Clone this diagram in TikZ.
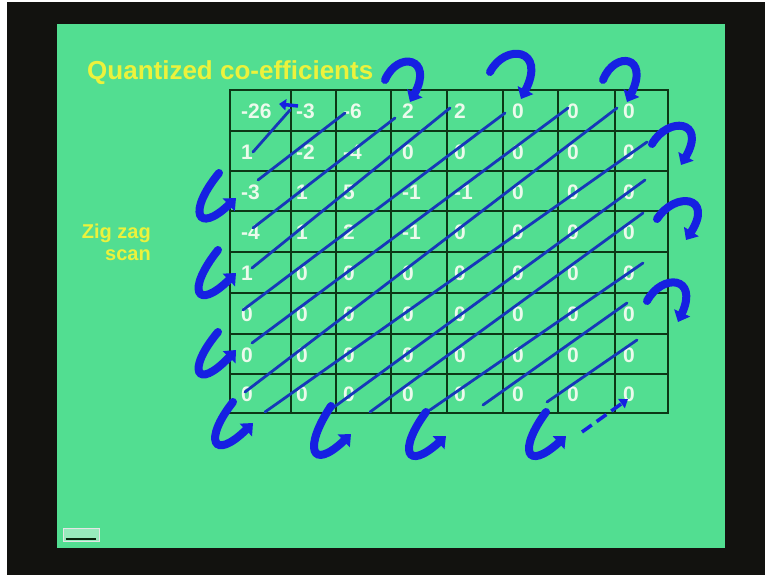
\documentclass[tikz,border=0pt]{standalone}
\usepackage{fontspec}
\setmainfont{Liberation Sans}
\usetikzlibrary{arrows.meta}
\definecolor{slidegreen}{RGB}{82,222,145}
\definecolor{frameblack}{RGB}{18,18,15}
\definecolor{gridgreen}{RGB}{12,55,22}
\definecolor{thinblue}{RGB}{22,55,185}
\definecolor{thickblue}{RGB}{22,32,226}
\definecolor{titleyellow}{RGB}{236,242,60}
\definecolor{numwhite}{RGB}{236,250,236}
\tikzset{
  gridline/.style={draw=gridgreen, line width=2.8pt},
  diagline/.style={draw=thinblue, line width=2.8pt, line cap=round},
  turnarrow/.style={draw=thickblue, line width=8pt, line cap=round,
    -{Triangle[length=10pt,width=17pt]}},
  num/.style={anchor=base west, text=numwhite, font=\bfseries\fontsize{21}{23}\selectfont, inner sep=0pt},
  label/.style={text=titleyellow, font=\bfseries\fontsize{20}{22}\selectfont, inner sep=0pt}
}
\begin{document}
\begin{tikzpicture}[x=1pt,y=-1pt]
\useasboundingbox (0,0) rectangle (765,575);
% frame and slide
\fill[frameblack] (0,0) rectangle (765,575);
\fill[white] (0,0) rectangle (7,575);
\fill[white] (0,0) rectangle (765,2);
\fill[slidegreen] (57,24) rectangle (725,548);
% bottom-left button
\node[draw=white!80!gray, fill=slidegreen!60!white, line width=1pt, minimum width=36pt, minimum height=13pt, inner sep=0pt] (btn) at (81,535) {};
\draw[gridgreen!70!black, line width=1.2pt] (btn.south west) ++(3,-3) -- ++(30,0);
% titles
\node[label, font=\bfseries\fontsize{26}{28}\selectfont, anchor=west] (title) at (87,73) {Quantized co-efficients};
\node[label, align=right, anchor=east] (zz) at (151,242) {Zig zag\\scan};
% grid
\foreach \x in {230,291,336,391,447,503,558,615,668}
  \draw[gridline] (\x,90) -- (\x,413);
\foreach \y in {90,131,171,211,252,293,334,374,413}
  \draw[gridline] (229,\y) -- (669,\y);
% numbers
\def\colL{{241,296,343,402,454,512,567,623}}
\def\rowB{{118,159,199,239,280,321,362,401}}
\foreach \r/\vals in {0/{-26,-3,-6,2,2,0,0,0},1/{1,-2,-4,0,0,0,0,0},2/{-3,1,5,-1,-1,0,0,0},3/{-4,1,2,-1,0,0,0,0},4/{1,0,0,0,0,0,0,0},5/{0,0,0,0,0,0,0,0},6/{0,0,0,0,0,0,0,0},7/{0,0,0,0,0,0,0,0}}{
  \foreach \v [count=\c from 0] in \vals {
    \pgfmathsetmacro{\xx}{\colL[\c]}
    \pgfmathsetmacro{\yy}{\rowB[\r]}
    \node[num] (n\r\c) at (\xx,\yy) {\v};
  }
}
% thin diagonal scan lines
\foreach \xa/\ya/\xb/\yb in {253/152/290/110, 258/180/345/113, 253/228/395/118, 252/268/450/108,
  243/310/505/113, 252/343/568/108, 245/392/617/108, 265/412/647/142, 330/410/645/180,
  370/412/643/213, 430/410/643/263, 483/405/627/303, 547/402/637/340}
  \draw[diagline] (\xa,\ya) -- (\xb,\yb);
% small first arrow
\draw[draw=thickblue, line width=3.5pt, -{Triangle[length=7pt,width=11pt]}] (298,106) -- (279,104);
% top turns
\draw[turnarrow] (385,80) .. controls (398,50) and (434,58) .. (410,102);
\draw[turnarrow] (490,72) .. controls (505,43) and (547,48) .. (521,99);
\draw[turnarrow] (603,80) .. controls (615,50) and (650,56) .. (627,102);
% right turns
\draw[turnarrow] (652,144) .. controls (668,116) and (707,120) .. (681,165);
\draw[turnarrow] (657,219) .. controls (675,191) and (714,196) .. (686,240);
\draw[turnarrow] (647,301) .. controls (662,273) and (699,276) .. (678,322);
% left turns
\draw[turnarrow] (219,173) .. controls (187,212) and (197,235) .. (236,198);
\draw[turnarrow] (218,250) .. controls (186,290) and (196,312) .. (236,273);
\draw[turnarrow] (218,332) .. controls (186,370) and (196,392) .. (236,350);
% bottom turns
\draw[turnarrow] (233,402) .. controls (203,440) and (213,462) .. (253,423);
\draw[turnarrow] (331,406) .. controls (303,448) and (311,472) .. (351,434);
\draw[turnarrow] (426,412) .. controls (398,450) and (406,472) .. (446,436);
\draw[turnarrow] (546,412) .. controls (518,450) and (526,472) .. (566,436);
% last dashed step
\draw[draw=thickblue, line width=3.5pt, dashed, dash pattern=on 12pt off 6pt, -{Triangle[length=8pt,width=11pt]}] (582,432) -- (628,399);
\end{tikzpicture}
\end{document}
